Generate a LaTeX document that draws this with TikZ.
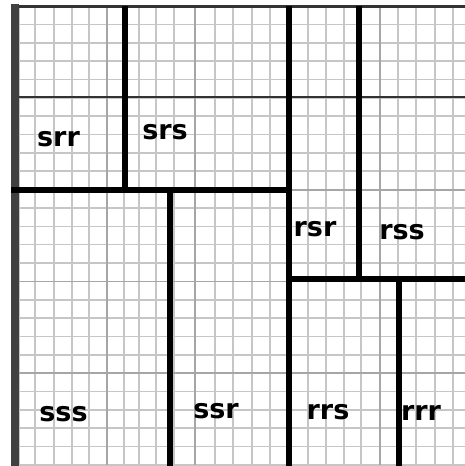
\documentclass[tikz,border=0pt]{standalone}
\usepackage{fontspec}
\newfontfamily\regionfont{DejaVu Sans}
\usepackage{tikz}

\begin{document}
\begin{tikzpicture}[x=1pt, y=-1pt,
        minor/.style={draw=gray!45, line width=1.6pt},
        major/.style={draw=gray!70, line width=1.8pt},
        divide/.style={draw=black, line width=6pt},
        region/.style={font=\regionfont\bfseries\fontsize{27}{27}\selectfont, inner sep=0pt}]
        \useasboundingbox (0,0) rectangle (465,466);
        % grid paper
        \foreach \x in {19,35,54,72,89,107,124,139,156,174,195,215,233,252,270,288,308,326,344,361,380,398,416,435,453}
          \draw[minor] (\x,6) -- (\x,465);
        \foreach \j in {1,...,25}
          \draw[minor] (15,{6+18.36*\j}) -- (465,{6+18.36*\j});
        \foreach \x in {107,195,380}
          \draw[major] (\x,6) -- (\x,465);
        \foreach \j in {10,15,20}
          \draw[major] (15,{6+18.36*\j}) -- (465,{6+18.36*\j});
        \draw[black!80, line width=1.5pt] (15,97) -- (465,97);
        % frame
        \draw[black!80, line width=3pt] (11,6) -- (465,6);
        \draw[black!75, line width=8pt] (15,4) -- (15,466);
        % region boundaries
        \draw[divide] (125,6) -- (125,189.5);
        \draw[divide] (11,189.5) -- (288.5,189.5);
        \draw[divide] (288.5,6) -- (288.5,466);
        \draw[divide] (170,189.5) -- (170,466);
        \draw[divide] (359,6) -- (359,279);
        \draw[divide] (288.5,279) -- (465,279);
        \draw[divide] (399,279) -- (399,466);
        % labels
        \node[region] (srr) at (58.5,139.5) {srr};
        \node[region] (srs) at (165,132)    {srs};
        \node[region] (rsr) at (315,229.5)  {rsr};
        \node[region] (rss) at (402,232)    {rss};
        \node[region] (sss) at (63.5,414)   {sss};
        \node[region] (ssr) at (216,411)    {ssr};
        \node[region] (rrs) at (328,412)    {rrs};
        \node[region] (rrr) at (421,413)    {rrr};
      \end{tikzpicture}
\end{document}
